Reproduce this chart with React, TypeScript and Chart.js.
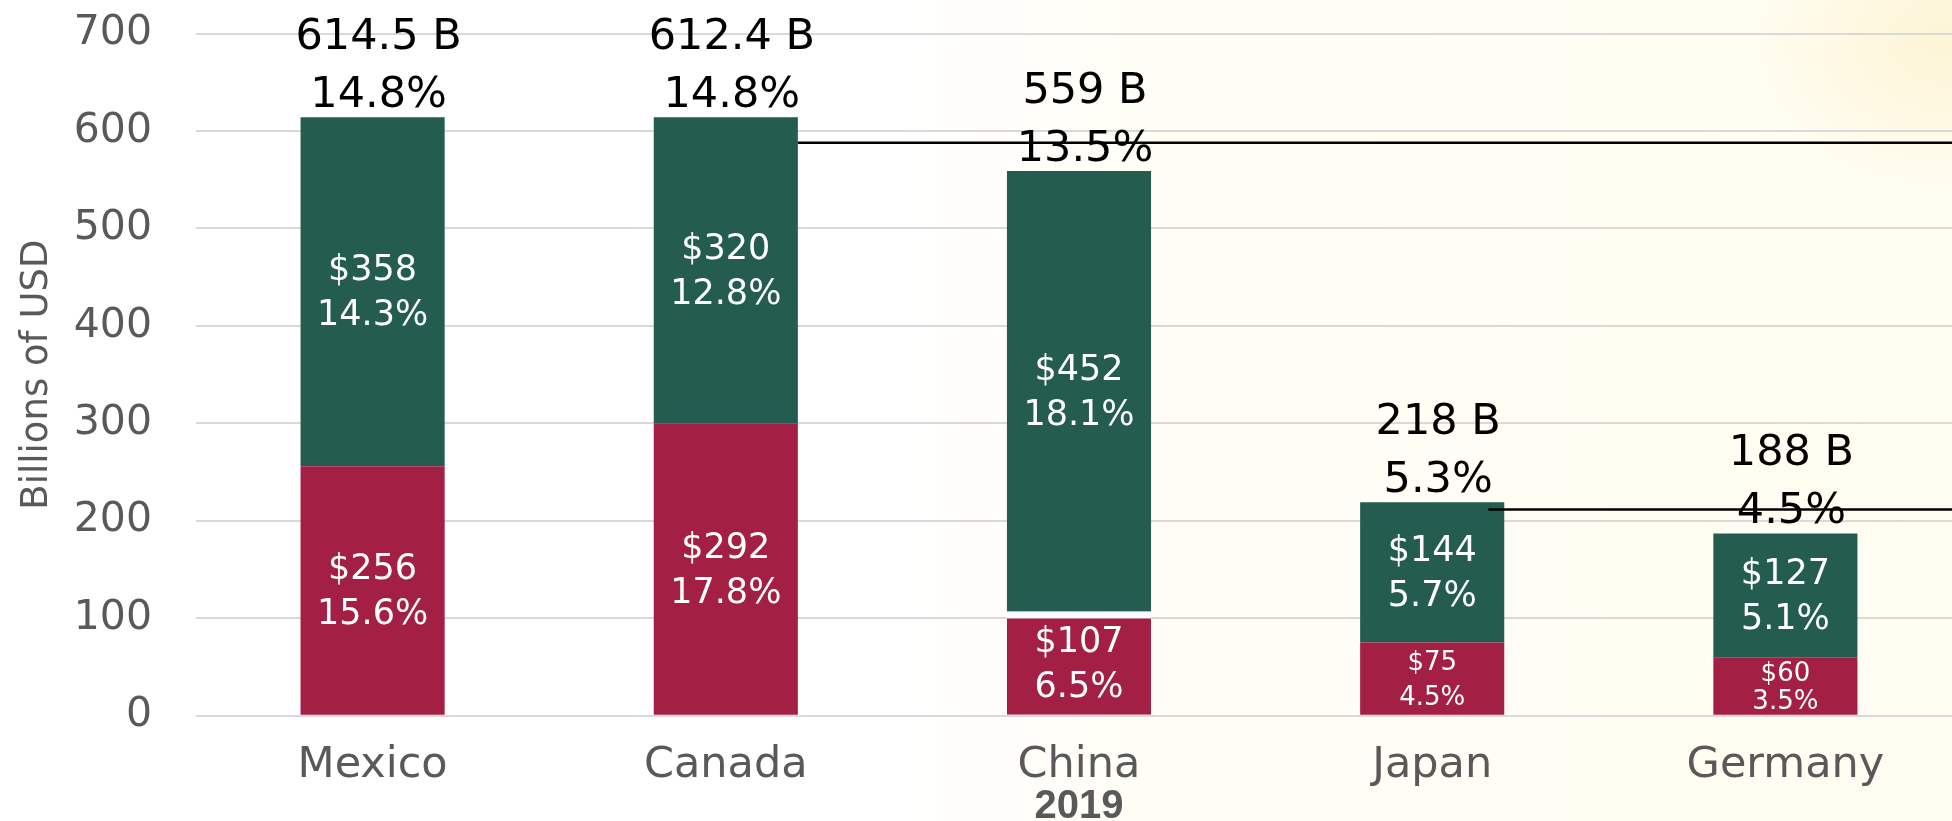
import React, { useEffect, useRef } from "react";
import { Chart, registerables } from "chart.js";

Chart.register(...registerables);

const categories = ["Mexico", "Canada", "China", "Japan", "Germany"];
const lowerValues = [256, 300, 107, 75, 60];
const upperValues = [358, 314, 452, 144, 127];
const lowerLabels = ["$256", "$292", "$107", "$75", "$60"];
const lowerPct = ["15.6%", "17.8%", "6.5%", "4.5%", "3.5%"];
const upperLabels = ["$358", "$320", "$452", "$144", "$127"];
const upperPct = ["14.3%", "12.8%", "18.1%", "5.7%", "5.1%"];
const totalLabels = ["614.5 B", "612.4 B", "559 B", "218 B", "188 B"];
const totalPct = ["14.8%", "14.8%", "13.5%", "5.3%", "4.5%"];
const refLineValues = [588, 211.6];
const refLineFrom = ["Canada", "Japan"];
const yearCategory = "China";
const yearLabel = "2019";
const yAxisTitle = "Billions of USD";

const GREEN = "#245C4F";
const RED = "#A31F44";
const GRAY = "#595959";
const FONT = "'DejaVu Sans', sans-serif";

const labelPlugin = {
  id: "labelPlugin",
  afterDatasetsDraw(chart: any) {
    const ctx = chart.ctx;
    const lower = chart.getDatasetMeta(0).data;
    const upper = chart.getDatasetMeta(1).data;
    ctx.save();
    ctx.textAlign = "center";
    const drawSeg = (bar: any, l1: string, l2: string) => {
      const top = Math.min(bar.y, bar.base);
      const bot = Math.max(bar.y, bar.base);
      const h = bot - top;
      const size = h < 80 ? 26 : 35;
      const gap = Math.min(45, h * 0.48);
      const cy = (top + bot) / 2 + 2;
      ctx.fillStyle = "#ffffff";
      ctx.font = `${size}px ${FONT}`;
      ctx.textBaseline = "middle";
      ctx.fillText(l1, bar.x, cy - gap / 2);
      ctx.fillText(l2, bar.x, cy + gap / 2);
    };
    categories.forEach((c, i) => {
      drawSeg(lower[i], lowerLabels[i], lowerPct[i]);
      drawSeg(upper[i], upperLabels[i], upperPct[i]);
      const top = upper[i].y;
      ctx.fillStyle = "#000000";
      ctx.font = `43px ${FONT}`;
      ctx.textBaseline = "alphabetic";
      ctx.fillText(totalPct[i], upper[i].x + 6, top - 10);
      ctx.fillText(totalLabels[i], upper[i].x + 6, top - 68);
    });
    // reference lines
    const yScale = chart.scales.y;
    const insets = [0, 16];
    ctx.strokeStyle = "#000000";
    ctx.lineWidth = 2.5;
    refLineValues.forEach((v, k) => {
      const idx = categories.indexOf(refLineFrom[k]);
      const bar = upper[idx];
      const x0 = bar.x + bar.width / 2 - insets[k];
      const y = yScale.getPixelForValue(v);
      ctx.beginPath();
      ctx.moveTo(x0, y);
      ctx.lineTo(chart.width, y);
      ctx.stroke();
    });
    // year sub label
    const xScale = chart.scales.x;
    const yi = categories.indexOf(yearCategory);
    ctx.fillStyle = GRAY;
    ctx.font = `bold 40px 'Liberation Sans', Arial, sans-serif`;
    ctx.textBaseline = "alphabetic";
    ctx.fillText(yearLabel, xScale.getPixelForValue(yi), 818);
    ctx.restore();
  },
};

export default function App() {
  const ref = useRef<HTMLCanvasElement | null>(null);
  useEffect(() => {
    document.body.style.margin = "0";
    const chart = new Chart(ref.current as HTMLCanvasElement, {
      type: "bar",
      data: {
        labels: categories,
        datasets: [
          {
            label: "Lower",
            data: lowerValues,
            backgroundColor: RED,
            borderColor: "#ffffff",
            borderWidth: (c: any) =>
              c.dataIndex === 2 ? { top: 7, left: 0, right: 0, bottom: 0 } : 0,
            borderSkipped: false,
            barPercentage: 0.408,
            categoryPercentage: 1,
          },
          {
            label: "Upper",
            data: upperValues,
            backgroundColor: GREEN,
            borderWidth: 0,
            barPercentage: 0.408,
            categoryPercentage: 1,
          },
        ],
      },
      options: {
        animation: false,
        responsive: false,
        devicePixelRatio: 1,
        layout: { padding: { top: 33.5, left: 0, right: 0, bottom: 0 } },
        plugins: {
          legend: { display: false },
          tooltip: { enabled: false },
        },
        scales: {
          x: {
            stacked: true,
            grid: { display: false, drawTicks: false },
            border: { display: false },
            ticks: {
              color: GRAY,
              font: { family: FONT, size: 43 },
              padding: 24,
              maxRotation: 0,
              autoSkip: false,
            },
            afterFit: (s: any) => {
              s.height = 821 - 715.7;
              s.paddingLeft = 0;
              s.paddingRight = 0;
            },
          },
          y: {
            stacked: true,
            min: 0,
            max: 700,
            grid: { color: "#d9d9d9", lineWidth: 2, drawTicks: false },
            border: { display: false },
            ticks: {
              stepSize: 100,
              color: GRAY,
              font: { family: FONT, size: 41 },
              padding: 44,
            },
            title: {
              display: true,
              text: yAxisTitle,
              color: GRAY,
              font: { family: FONT, size: 37 },
              padding: { top: 15, bottom: 0 },
            },
            afterFit: (s: any) => {
              s.width = 196;
              s.paddingTop = 0;
              s.paddingBottom = 0;
            },
          },
        },
      },
      plugins: [labelPlugin],
    });
    return () => chart.destroy();
  }, []);

  return (
    <div
      style={{
        position: "fixed",
        left: 0,
        top: 0,
        width: 1952,
        height: 821,
        overflow: "hidden",
        background:
          "radial-gradient(ellipse 200px 150px at 1945px 40px, rgba(250,228,160,0.35), rgba(250,228,160,0) 100%), linear-gradient(90deg, #ffffff 0px, #ffffff 900px, #fffef5 1150px, #fffdf1 1952px)",
      }}
    >
      <canvas ref={ref} width={1962} height={821} style={{ width: 1962, height: 821, display: "block" }} />
    </div>
  );
}
